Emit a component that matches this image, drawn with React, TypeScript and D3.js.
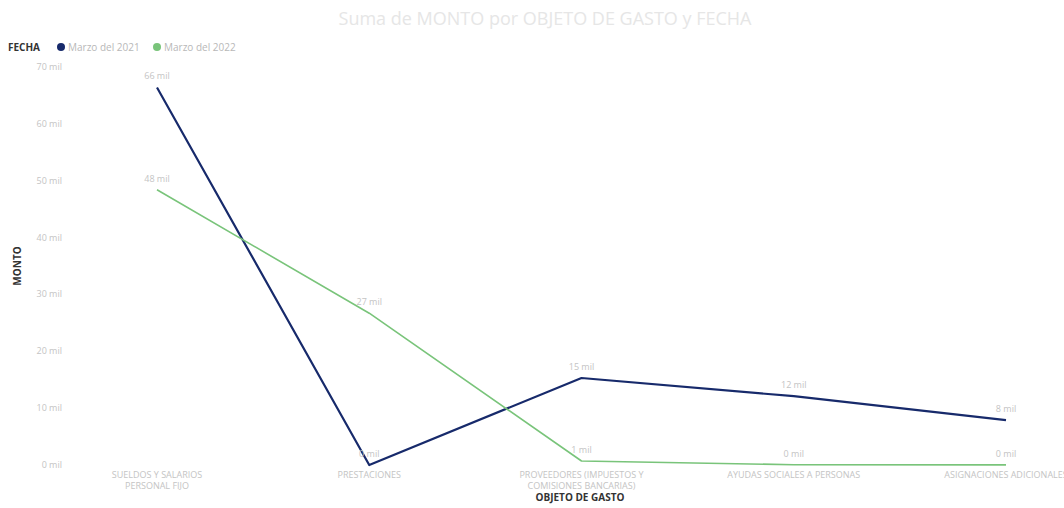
import React from "react";
import * as d3 from "d3";

const categories = [
  ["SUELDOS Y SALARIOS", "PERSONAL FIJO"],
  ["PRESTACIONES"],
  ["PROVEEDORES (IMPUESTOS Y", "COMISIONES BANCARIAS)"],
  ["AYUDAS SOCIALES A PERSONAS"],
  ["ASIGNACIONES ADICIONALES"],
];
const seriesNames = ["Marzo del 2021", "Marzo del 2022"];
const values2021 = [66400, 0, 15300, 12100, 7900];
const values2022 = [48400, 26700, 700, 50, 20];
const yTicks = [0, 10000, 20000, 30000, 40000, 50000, 60000, 70000];
const colors = ["#172a6b", "#79c47a"];

const W = 1064;
const H = 508;
const font = "'Open Sans', 'DejaVu Sans', sans-serif";

export default function App() {
  const x = d3
    .scalePoint<number>()
    .domain(categories.map((_, i) => i))
    .range([157, 1006]);
  const y = d3.scaleLinear().domain([0, 70000]).range([465, 67]);
  const fmt = (v: number) => `${Math.round(v / 1000)} mil`;
  const line = d3
    .line<number>()
    .x((_, i) => x(i) as number)
    .y((d) => y(d));
  const series = [values2021, values2022];

  return (
    <svg
      width={W}
      height={H}
      style={{ position: "absolute", left: 0, top: 0, fontFamily: font }}
    >
      <rect width={W} height={H} fill="#fff" />
      <text x={545} y={25} textAnchor="middle" fontSize={18} fill="#e6e6e6">
        Suma de MONTO por OBJETO DE GASTO y FECHA
      </text>
      {/* legend */}
      <text x={8} y={51} fontSize={10} fontWeight="bold" fill="#333">
        FECHA
      </text>
      {seriesNames.map((s, i) => {
        const lx = i === 0 ? 61 : 157;
        return (
          <g key={s}>
            <circle cx={lx} cy={47} r={4} fill={colors[i]} />
            <text x={lx + 7} y={51} fontSize={10} fill="#b8b8b8">
              {s}
            </text>
          </g>
        );
      })}
      {/* y axis */}
      {yTicks.map((t) => (
        <text
          key={t}
          x={62}
          y={y(t) + 3}
          textAnchor="end"
          fontSize={9}
          fill="#c4c4c4"
        >
          {fmt(t)}
        </text>
      ))}
      <text
        transform={`translate(21,266) rotate(-90)`}
        textAnchor="middle"
        fontSize={10}
        fontWeight="bold"
        fill="#333"
      >
        MONTO
      </text>
      {/* x axis */}
      {categories.map((c, i) => (
        <text
          key={i}
          x={x(i)}
          y={478}
          textAnchor="middle"
          fontSize={9}
          fill="#c4c4c4"
        >
          {c.map((l, j) => (
            <tspan key={j} x={x(i)} dy={j === 0 ? 0 : 11}>
              {l}
            </tspan>
          ))}
        </text>
      ))}
      <text
        x={580}
        y={501}
        textAnchor="middle"
        fontSize={10}
        fontWeight="bold"
        fill="#333"
      >
        OBJETO DE GASTO
      </text>
      {/* lines */}
      {series.map((s, si) => (
        <path
          key={si}
          d={line(s) || ""}
          fill="none"
          stroke={colors[si]}
          strokeWidth={si === 0 ? 2.2 : 1.6}
          strokeLinejoin="round"
        />
      ))}
      {/* data labels */}
      {series.map((s, si) =>
        s.map((v, i) => (
          <text
            key={`${si}-${i}`}
            x={x(i)}
            y={y(v) - 8}
            textAnchor="middle"
            fontSize={9}
            fill="#c4c4c4"
          >
            {fmt(v)}
          </text>
        ))
      )}
    </svg>
  );
}
